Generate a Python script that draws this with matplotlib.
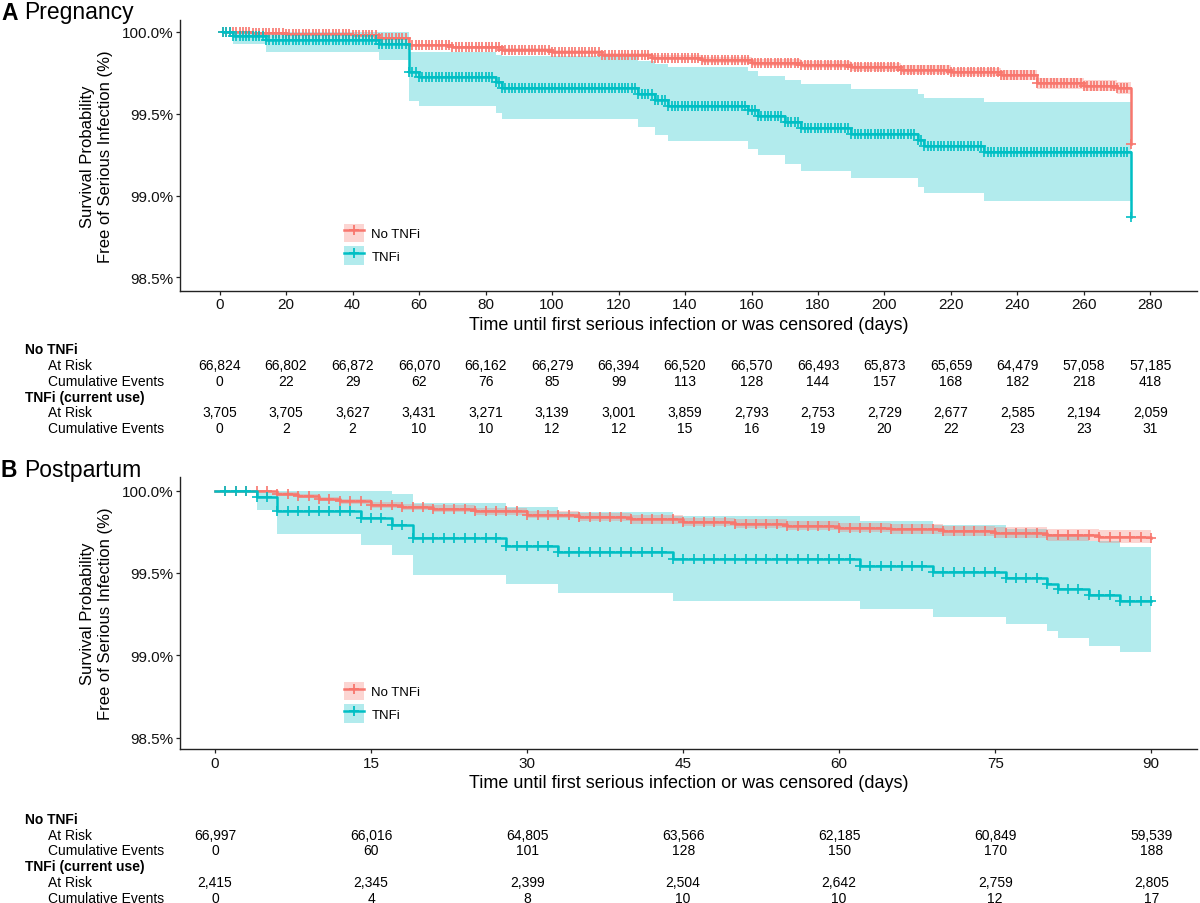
"""
Kaplan-Meier curves for serious infection, pregnancy and postpartum,
No TNFi vs TNFi, with a number-at-risk table under each panel.
"""

import numpy as np
import matplotlib
matplotlib.use('Agg')
import matplotlib.pyplot as plt
import matplotlib.transforms as mtransforms
from matplotlib.patches import Patch
from matplotlib.lines import Line2D
from matplotlib.legend_handler import HandlerTuple

plt.rcParams['font.family'] = ['Liberation Sans', 'DejaVu Sans']

RED = '#F8766D'
TEAL = '#00BFC4'

# ---------------- Panel A: pregnancy ----------------
ticks_a = [0, 20, 40, 60, 80, 100, 120, 140, 160, 180, 200, 220, 240, 260, 280]

# No TNFi survival (%)
notnfi_a_t = [1, 10, 20, 30, 40, 48, 57, 70, 85, 100, 115, 130, 145, 160,
              175, 190, 205, 220, 235, 246, 260, 270, 274]
notnfi_a_s = [100.0, 99.995, 99.99, 99.985, 99.98, 99.96, 99.92, 99.905,
              99.89, 99.875, 99.86, 99.843, 99.828, 99.813, 99.799, 99.785,
              99.77, 99.755, 99.738, 99.685, 99.672, 99.66, 99.318]
notnfi_a_lo = [100.0, 99.993, 99.987, 99.981, 99.975, 99.953, 99.912, 99.896,
               99.88, 99.863, 99.846, 99.828, 99.811, 99.794, 99.778, 99.762,
               99.745, 99.728, 99.708, 99.652, 99.637, 99.623, 99.623]
notnfi_a_hi = [100.0, 99.997, 99.993, 99.989, 99.985, 99.967, 99.928, 99.914,
               99.9, 99.887, 99.874, 99.858, 99.845, 99.832, 99.82, 99.808,
               99.795, 99.782, 99.768, 99.718, 99.707, 99.697, 99.697]

# TNFi survival (%)
tnfi_a_t = [1, 4, 14, 48, 57, 60, 83, 85, 126, 131, 135, 159, 162, 170,
            175, 190, 210, 212, 230, 274]
tnfi_a_s = [100.0, 99.976, 99.951, 99.925, 99.753, 99.723, 99.693, 99.656,
            99.62, 99.587, 99.55, 99.52, 99.486, 99.45, 99.413, 99.374,
            99.338, 99.301, 99.267, 98.872]
tnfi_a_lo = [100.0, 99.925, 99.875, 99.83, 99.58, 99.547, 99.506, 99.465,
             99.419, 99.372, 99.332, 99.287, 99.247, 99.192, 99.15, 99.105,
             99.055, 99.014, 98.967, 98.967]
tnfi_a_hi = [100.0, 100.0, 100.0, 100.0, 99.875, 99.875, 99.86, 99.85,
             99.82, 99.804, 99.784, 99.763, 99.733, 99.707, 99.682, 99.652,
             99.62, 99.595, 99.571, 99.571]

# censoring happened on every day of follow-up
censor_a = list(range(1, 275))

notnfi_a_risk = [66824, 66802, 66872, 66070, 66162, 66279, 66394, 66520,
                 66570, 66493, 65873, 65659, 64479, 57058, 57185]
notnfi_a_events = [0, 22, 29, 62, 76, 85, 99, 113, 128, 144, 157, 168, 182,
                   218, 418]
tnfi_a_risk = [3705, 3705, 3627, 3431, 3271, 3139, 3001, 3859, 2793, 2753,
               2729, 2677, 2585, 2194, 2059]
tnfi_a_events = [0, 2, 2, 10, 10, 12, 12, 15, 16, 19, 20, 22, 23, 23, 31]

# ---------------- Panel B: postpartum ----------------
ticks_b = [0, 15, 30, 45, 60, 75, 90]

notnfi_b_t = [0, 4, 6, 8, 10, 12, 15, 18, 21, 25, 30, 35, 40, 45, 50, 55,
              60, 65, 70, 75, 80, 85, 90]
notnfi_b_s = [100.0, 99.995, 99.98, 99.965, 99.95, 99.935, 99.915, 99.9,
              99.89, 99.875, 99.855, 99.84, 99.825, 99.81, 99.8, 99.787,
              99.775, 99.765, 99.755, 99.745, 99.732, 99.72, 99.71]
notnfi_b_lo = [100.0, 99.99, 99.97, 99.953, 99.936, 99.919, 99.897, 99.881,
               99.87, 99.853, 99.832, 99.816, 99.8, 99.784, 99.773, 99.759,
               99.746, 99.735, 99.723, 99.711, 99.695, 99.68, 99.67]
notnfi_b_hi = [100.0, 100.0, 99.99, 99.977, 99.964, 99.951, 99.933, 99.919,
               99.91, 99.897, 99.878, 99.864, 99.85, 99.836, 99.827, 99.815,
               99.804, 99.795, 99.787, 99.779, 99.769, 99.76, 99.755]

tnfi_b_t = [0, 4, 6, 14, 17, 19, 28, 33, 44, 62, 69, 76, 80, 81, 84, 87, 90]
tnfi_b_s = [100.0, 99.96, 99.879, 99.832, 99.792, 99.711, 99.666, 99.626,
            99.585, 99.541, 99.504, 99.47, 99.434, 99.403, 99.369, 99.332,
            99.332]
tnfi_b_lo = [100.0, 99.885, 99.737, 99.672, 99.61, 99.49, 99.434, 99.379,
             99.328, 99.282, 99.235, 99.19, 99.146, 99.104, 99.059, 99.019,
             99.019]
tnfi_b_hi = [100.0, 100.0, 100.0, 100.0, 99.98, 99.925, 99.899, 99.869,
             99.845, 99.818, 99.792, 99.767, 99.737, 99.723, 99.693, 99.656,
             99.656]

censor_b = list(range(1, 91))

notnfi_b_risk = [66997, 66016, 64805, 63566, 62185, 60849, 59539]
notnfi_b_events = [0, 60, 101, 128, 150, 170, 188]
tnfi_b_risk = [2415, 2345, 2399, 2504, 2642, 2759, 2805]
tnfi_b_events = [0, 4, 8, 10, 10, 12, 17]

W, H = 1200, 904


def km_fill(ax, t, lo, hi, color):
    ax.fill_between(t, lo, hi, step='post', color=color, alpha=0.3,
                    linewidth=0)


def km_line(ax, t, s, censor, color):
    t = np.asarray(t)
    s = np.asarray(s)
    ax.plot(t, s, drawstyle='steps-post', color=color, lw=1.8)
    idx = np.searchsorted(t, censor, side='right') - 1
    ax.plot(censor, s[idx], ls='none', marker='+', ms=6.5, mew=1.2,
            color=color)


def style_axes(ax, ticks, xlim, ylim):
    ax.set_xlim(*xlim)
    ax.set_ylim(*ylim)
    ax.set_xticks(ticks)
    ax.set_yticks([98.5, 99.0, 99.5, 100.0])
    ax.set_yticklabels([f'{v:.1f}%' for v in [98.5, 99.0, 99.5, 100.0]])
    for side in ['top', 'right']:
        ax.spines[side].set_visible(False)
    for side in ['left', 'bottom']:
        ax.spines[side].set_linewidth(1.0)
        ax.spines[side].set_color('#222222')
    ax.tick_params(length=3, width=0.9, pad=2, labelsize=11,
                   colors='#222222', labelcolor='#111111')
    ax.set_xlabel('Time until first serious infection or was censored (days)',
                  fontsize=13, labelpad=3)
    ax.set_ylabel('Survival Probability\nFree of Serious Infection (%)',
                  fontsize=12)
    ax.yaxis.set_label_coords(-0.066, 0.5)

    h_red = (Patch(facecolor=RED, alpha=0.3, edgecolor='none'),
             Line2D([], [], color=RED, lw=1.8, marker='+', ms=7, mew=1.3))
    h_teal = (Patch(facecolor=TEAL, alpha=0.3, edgecolor='none'),
              Line2D([], [], color=TEAL, lw=1.8, marker='+', ms=7, mew=1.3))
    ax.legend([h_red, h_teal], ['No TNFi', 'TNFi'],
              handler_map={tuple: HandlerTuple(ndivide=1, pad=0)},
              loc='upper left', bbox_to_anchor=(0.161, 0.247),
              frameon=False, fontsize=9.5, borderpad=0, borderaxespad=0,
              handlelength=1.55, handleheight=1.8, labelspacing=0.3,
              handletextpad=0.55)


def risk_table(fig, ax, ticks, rows_y, no_risk, no_ev, tn_risk, tn_ev):
    trans = mtransforms.blended_transform_factory(ax.transData,
                                                  fig.transFigure)
    fy = [1 - y / H for y in rows_y]
    fig.text(25 / W, fy[0], 'No TNFi', weight='bold', fontsize=10,
             va='center')
    fig.text(48 / W, fy[1], 'At Risk', fontsize=10, va='center')
    fig.text(48 / W, fy[2], 'Cumulative Events', fontsize=10, va='center')
    fig.text(25 / W, fy[3], 'TNFi (current use)', weight='bold',
             fontsize=10, va='center')
    fig.text(48 / W, fy[4], 'At Risk', fontsize=10, va='center')
    fig.text(48 / W, fy[5], 'Cumulative Events', fontsize=10, va='center')
    for i, x in enumerate(ticks):
        fig.text(x, fy[1], f'{no_risk[i]:,}', transform=trans, ha='center',
                 va='center', fontsize=10)
        fig.text(x, fy[2], f'{no_ev[i]:,}', transform=trans, ha='center',
                 va='center', fontsize=10)
        fig.text(x, fy[4], f'{tn_risk[i]:,}', transform=trans, ha='center',
                 va='center', fontsize=10)
        fig.text(x, fy[5], f'{tn_ev[i]:,}', transform=trans, ha='center',
                 va='center', fontsize=10)


def main():
    fig = plt.figure(figsize=(W / 100, H / 100), dpi=100)

    # panel A
    ax_a = fig.add_axes([180 / W, 1 - 291.5 / H, 1017 / W, 270.5 / H])
    km_fill(ax_a, tnfi_a_t, tnfi_a_lo, tnfi_a_hi, TEAL)
    km_fill(ax_a, notnfi_a_t, notnfi_a_lo, notnfi_a_hi, RED)
    km_line(ax_a, notnfi_a_t, notnfi_a_s, censor_a, RED)
    km_line(ax_a, tnfi_a_t, tnfi_a_s, censor_a, TEAL)
    style_axes(ax_a, ticks_a, (-11.9, 294), (98.42, 100.073))

    # panel B
    ax_b = fig.add_axes([180 / W, 1 - 750 / H, 1017 / W, 272 / H])
    km_fill(ax_b, tnfi_b_t, tnfi_b_lo, tnfi_b_hi, TEAL)
    km_fill(ax_b, notnfi_b_t, notnfi_b_lo, notnfi_b_hi, RED)
    km_line(ax_b, notnfi_b_t, notnfi_b_s, censor_b, RED)
    km_line(ax_b, tnfi_b_t, tnfi_b_s, censor_b, TEAL)
    style_axes(ax_b, ticks_b, (-3.37, 94.4), (98.431, 100.083))

    # panel titles
    fig.text(1 / W, 1 - 19.5 / H, 'A', weight='bold', fontsize=16.5,
             va='baseline')
    fig.text(24 / W, 1 - 19.5 / H, 'Pregnancy', fontsize=16.5, va='baseline')
    fig.text(1 / W, 1 - 477 / H, 'B', weight='bold', fontsize=16.5,
             va='baseline')
    fig.text(24 / W, 1 - 477 / H, 'Postpartum', fontsize=16.5,
             va='baseline')

    risk_table(fig, ax_a, ticks_a, [350, 366, 382, 398, 413, 429],
               notnfi_a_risk, notnfi_a_events, tnfi_a_risk, tnfi_a_events)
    risk_table(fig, ax_b, ticks_b, [820, 836, 851, 867, 883, 899],
               notnfi_b_risk, notnfi_b_events, tnfi_b_risk, tnfi_b_events)

    fig.savefig('out.png', dpi=100)


if __name__ == '__main__':
    main()
